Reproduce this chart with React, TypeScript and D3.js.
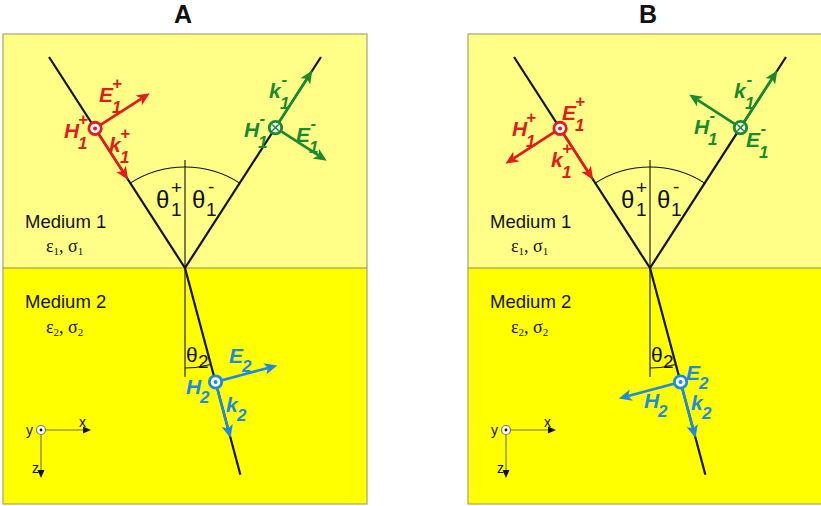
import React from 'react';
import * as d3 from 'd3';

// ---- data ----
const PANELS = ['A', 'B'];
const PANEL_OFFSETS = [0, 465];
const THETA1_DEG = 32.8; // incidence / reflection angle
const THETA2_DEG = 15; // transmission angle
const RAY_LENGTHS = [251, 251, 214]; // incident, reflected, transmitted
const ANCHORS = [166, 167, 118]; // distance of field markers from the interface point
const K_TIPS = [105, 235, 176]; // distance of k-arrow tips
const PERP_LENGTHS = [65, 61, 64];
const PERP_SIGNS = [[1, 1, 1], [-1, -1, -1]]; // per panel: direction of the perpendicular arrow
const CIRCLE_TYPES = ['dot', 'cross', 'dot'];

type Lbl = { t: string; x: number; y: number; sup?: string; sub: string; c: number };
// panel-relative label positions (c: 0 red, 1 green, 2 blue)
const LABELS_A: Lbl[] = [
  { t: 'E', x: 99, y: 102, sup: '+', sub: '1', c: 0 },
  { t: 'H', x: 64, y: 138, sup: '+', sub: '1', c: 0 },
  { t: 'k', x: 109, y: 152, sup: '+', sub: '1', c: 0 },
  { t: 'k', x: 269, y: 98, sup: '-', sub: '1', c: 1 },
  { t: 'H', x: 244, y: 137, sup: '-', sub: '1', c: 1 },
  { t: 'E', x: 296, y: 142, sup: '-', sub: '1', c: 1 },
  { t: 'E', x: 229, y: 363, sub: '2', c: 2 },
  { t: 'H', x: 186, y: 394, sub: '2', c: 2 },
  { t: 'k', x: 226, y: 412, sub: '2', c: 2 },
];
const LABELS_B: Lbl[] = [
  { t: 'E', x: 97, y: 120, sup: '+', sub: '1', c: 0 },
  { t: 'H', x: 47, y: 136, sup: '+', sub: '1', c: 0 },
  { t: 'k', x: 86, y: 167, sup: '+', sub: '1', c: 0 },
  { t: 'k', x: 269, y: 98, sup: '-', sub: '1', c: 1 },
  { t: 'H', x: 229, y: 134, sup: '-', sub: '1', c: 1 },
  { t: 'E', x: 281, y: 147, sup: '-', sub: '1', c: 1 },
  { t: 'E', x: 221, y: 380, sub: '2', c: 2 },
  { t: 'H', x: 179, y: 408, sub: '2', c: 2 },
  { t: 'k', x: 226, y: 410, sub: '2', c: 2 },
];
const PANEL_LABELS = [LABELS_A, LABELS_B];
const MEDIA = ['Medium 1', 'Medium 2'];
const MEDIA_PARAMS = [['ε', '1', 'σ', '1'], ['ε', '2', 'σ', '2']];

// ---- styles ----
const COLORS = ['#e31b1b', '#1a8a2e', '#1f8be0'];
const LIGHT = '#ffff88';
const DARK = '#ffff00';
const BORDER = '#a6a66e';
const SANS = 'Liberation Sans, Arial, sans-serif';
const SERIF = 'Liberation Serif, Times New Roman, serif';
const LETTER_W: Record<string, number> = { E: 14, H: 15, k: 12 };

const rad = (d: number) => (d * Math.PI) / 180;

function Arrow({ x1, y1, x2, y2, color, w = 2.7, head = 13, hw = 5.8 }: any) {
  const dx = x2 - x1, dy = y2 - y1;
  const L = Math.hypot(dx, dy);
  const ux = dx / L, uy = dy / L;
  const px = -uy, py = ux;
  const bx = x2 - ux * head, by = y2 - uy * head;
  const nx = x2 - ux * head * 0.75, ny = y2 - uy * head * 0.75;
  const p = d3.path();
  p.moveTo(x2, y2);
  p.lineTo(bx + px * hw, by + py * hw);
  p.lineTo(nx, ny);
  p.lineTo(bx - px * hw, by - py * hw);
  p.closePath();
  return (
    <g>
      <line x1={x1} y1={y1} x2={nx} y2={ny} stroke={color} strokeWidth={w} />
      <path d={p.toString()} fill={color} />
    </g>
  );
}

function Marker({ x, y, color, type }: any) {
  return (
    <g>
      <circle cx={x} cy={y} r={6.2} fill="#fff" stroke={color} strokeWidth={2.8} />
      {type === 'dot' ? (
        <circle cx={x} cy={y} r={2} fill={color} />
      ) : (
        <g stroke={color} strokeWidth={1.5}>
          <line x1={x - 3.2} y1={y - 3.2} x2={x + 3.2} y2={y + 3.2} />
          <line x1={x - 3.2} y1={y + 3.2} x2={x + 3.2} y2={y - 3.2} />
        </g>
      )}
    </g>
  );
}

function Label({ l, ox }: { l: Lbl; ox: number }) {
  const color = COLORS[l.c];
  const sx = ox + l.x + LETTER_W[l.t] - 1;
  return (
    <g fill={color} fontFamily={SANS} fontWeight="bold" fontStyle="italic">
      <text x={ox + l.x} y={l.y} fontSize={21}>{l.t}</text>
      {l.sup && (
        <text x={sx + (l.sup === '-' ? 1.5 : 0)} y={l.y - 13} fontSize={17}>{l.sup}</text>
      )}
      <text x={sx} y={l.y + (l.sup ? 11 : 9)} fontSize={17}>{l.sub}</text>
    </g>
  );
}

function Panel({ idx }: { idx: number }) {
  const ox = PANEL_OFFSETS[idx];
  const left = 3 + ox, top = 34, width = 364, height = 470, iface = 268;
  const O = { x: 185 + ox, y: iface };
  const s1 = Math.sin(rad(THETA1_DEG)), c1 = Math.cos(rad(THETA1_DEG));
  const s2 = Math.sin(rad(THETA2_DEG)), c2 = Math.cos(rad(THETA2_DEG));
  const dirs = [[s1, c1], [s1, -c1], [s2, c2]];
  const sgn = [-1, 1, 1];
  const at = (i: number, r: number) => ({ x: O.x + sgn[i] * r * dirs[i][0], y: O.y + sgn[i] * r * dirs[i][1] });
  const perp = (i: number) => {
    const [dx, dy] = dirs[i];
    const base = i === 1 ? [c1, s1] : [dy, -dx];
    const s = PERP_SIGNS[idx][i];
    return [base[0] * s, base[1] * s];
  };

  const rayStart = [at(0, RAY_LENGTHS[0]), O, O];
  const rayEnd = [O, at(1, RAY_LENGTHS[1]), at(2, RAY_LENGTHS[2])];

  const arc1 = d3.path();
  const r1 = 101;
  const a0 = rad(-90 - THETA1_DEG), a1 = rad(-90 + THETA1_DEG);
  arc1.moveTo(O.x + r1 * Math.cos(a0), O.y + r1 * Math.sin(a0));
  arc1.arc(O.x, O.y, r1, a0, a1);
  const arc2 = d3.path();
  const r2 = 100;
  const b0 = rad(90 - THETA2_DEG), b1 = rad(90);
  arc2.moveTo(O.x + r2 * Math.cos(b0), O.y + r2 * Math.sin(b0));
  arc2.arc(O.x, O.y, r2, b0, b1);

  const ax = { x: 41 + ox, y: 430 };

  return (
    <g>
      <rect x={left} y={top} width={width} height={iface - top} fill={LIGHT} />
      <rect x={left} y={iface} width={width} height={top + height - iface} fill={DARK} />
      <rect x={left} y={top} width={width} height={height} fill="none" stroke={BORDER} strokeWidth={1.2} />
      <line x1={left} x2={left + width} y1={iface} y2={iface} stroke="#8e8e52" strokeWidth={1.2} />
      <text x={183 + ox} y={23} textAnchor="middle" fontFamily={SANS} fontWeight="bold" fontSize={25} fill="#111">
        {PANELS[idx]}
      </text>

      <line x1={O.x} x2={O.x} y1={160} y2={377} stroke="#111" strokeWidth={1.1} />
      <path d={arc1.toString()} fill="none" stroke="#111" strokeWidth={1.1} />
      <path d={arc2.toString()} fill="none" stroke="#111" strokeWidth={1.1} />

      {rayStart.map((s, i) => (
        <line key={i} x1={s.x} y1={s.y} x2={rayEnd[i].x} y2={rayEnd[i].y} stroke="#111" strokeWidth={2.2} />
      ))}

      {[0, 1, 2].map((i) => {
        const a = at(i, ANCHORS[i]);
        const k = at(i, K_TIPS[i]);
        const p = perp(i);
        const L = PERP_LENGTHS[i];
        return (
          <g key={i}>
            <Arrow x1={a.x} y1={a.y} x2={k.x} y2={k.y} color={COLORS[i]} />
            <Arrow x1={a.x} y1={a.y} x2={a.x + p[0] * L} y2={a.y + p[1] * L} color={COLORS[i]} />
            <Marker x={a.x} y={a.y} color={COLORS[i]} type={CIRCLE_TYPES[i]} />
          </g>
        );
      })}

      {PANEL_LABELS[idx].map((l, i) => (
        <Label key={i} l={l} ox={ox} />
      ))}

      <g fontFamily={SANS} fill="#111">
        <text x={156 + ox} y={208} fontSize={24}>θ</text>
        <text x={171 + ox} y={194} fontSize={19}>+</text>
        <text x={171 + ox} y={216} fontSize={19}>1</text>
        <text x={192 + ox} y={208} fontSize={24}>θ</text>
        <text x={208 + ox} y={193} fontSize={19}>-</text>
        <text x={206 + ox} y={216} fontSize={19}>1</text>
        <text x={186 + ox} y={362} fontSize={21}>θ</text>
        <text x={198 + ox} y={368} fontSize={19}>2</text>
      </g>

      {MEDIA.map((m, i) => (
        <g key={m}>
          <text x={25 + ox} y={i === 0 ? 228 : 308} fontFamily={SANS} fontSize={18.5} fill="#111">{m}</text>
          <text x={46 + ox} y={i === 0 ? 252 : 333} fontFamily={SERIF} fontSize={18} fill="#111">
            {MEDIA_PARAMS[i][0]}
            <tspan fontSize={11} dy={3}>{MEDIA_PARAMS[i][1]}</tspan>
            <tspan dy={-3}>, {MEDIA_PARAMS[i][2]}</tspan>
            <tspan fontSize={11} dy={3}>{MEDIA_PARAMS[i][3]}</tspan>
          </text>
        </g>
      ))}

      <g>
        <line x1={ax.x + 5} y1={ax.y} x2={ax.x + 44} y2={ax.y} stroke="#6e6e3a" strokeWidth={1.1} />
        <path d={`M${ax.x + 50},${ax.y} l-8,-3.5 l0,7 z`} fill="#111" />
        <line x1={ax.x} y1={ax.y + 5} x2={ax.x} y2={ax.y + 42} stroke="#6e6e3a" strokeWidth={1.1} />
        <path d={`M${ax.x},${ax.y + 48} l-3.5,-8 l7,0 z`} fill="#111" />
        <circle cx={ax.x} cy={ax.y} r={4.5} fill="#fff" stroke="#777" strokeWidth={1.2} />
        <circle cx={ax.x} cy={ax.y} r={1.4} fill="#111" />
        <text x={ax.x - 15} y={ax.y + 5} fontFamily={SANS} fontSize={14} fill="#111">y</text>
        <text x={ax.x + 38} y={ax.y - 3} fontFamily={SANS} fontSize={14} fill="#111">x</text>
        <text x={ax.x - 9} y={ax.y + 43} fontFamily={SANS} fontSize={14} fill="#111">z</text>
      </g>
    </g>
  );
}

export default function App() {
  return (
    <svg
      width={821}
      height={506}
      viewBox="0 0 821 506"
      style={{ position: 'absolute', left: 0, top: 0, background: '#fff' }}
    >
      {PANELS.map((p, i) => (
        <Panel key={p} idx={i} />
      ))}
    </svg>
  );
}
